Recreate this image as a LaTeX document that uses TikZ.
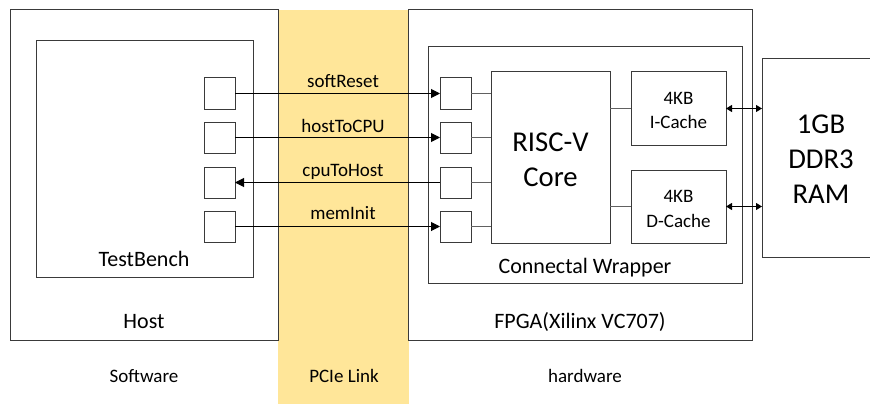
\documentclass[tikz,border=0pt]{standalone}
\usepackage{fontspec}
\setmainfont{Carlito}
\usetikzlibrary{arrows.meta}
\definecolor{bandcol}{HTML}{FFE699}
\definecolor{linecol}{HTML}{3A3A3A}
\begin{document}
\begin{tikzpicture}[x=1pt,y=-1pt,
  box/.style={draw=linecol, line width=1pt, inner sep=0pt, outer sep=0pt, anchor=north west},
  port/.style={box, minimum width=31pt, minimum height=31pt},
  sig/.style={-{Triangle[length=9pt,width=9pt]}, line width=1pt, draw=black},
  dbl/.style={{Triangle[length=6pt,width=7pt]}-{Triangle[length=6pt,width=7pt]}, line width=1pt, draw=black},
  wire/.style={line width=1pt, draw=linecol!80},
  small/.style={font=\fontsize{19}{23}\selectfont, inner sep=0pt, anchor=base},
  mid/.style={font=\fontsize{22}{26}\selectfont, inner sep=0pt, anchor=base},
  big/.style={font=\fontsize{28.7}{34}\selectfont, inner sep=0pt, anchor=base}]
\useasboundingbox (0,0) rectangle (870,404);
\clip (0,0) rectangle (870,404);
% PCIe band
\fill[bandcol] (278,10) rectangle (409,404);
% big boxes
\node[box, minimum width=268pt, minimum height=330pt] (host) at (10,10) {};
\node[box, minimum width=217pt, minimum height=236pt] (tb) at (36,41) {};
\node[box, minimum width=344pt, minimum height=330pt] (fpga) at (408,10) {};
\node[box, minimum width=314pt, minimum height=236pt] (wrap) at (428,47) {};
\node[box, minimum width=119pt, minimum height=171pt] (core) at (491,72) {};
\node[box, minimum width=95pt, minimum height=73pt] (icache) at (631,72) {};
\node[box, minimum width=95pt, minimum height=73pt] (dcache) at (631,170) {};
\node[box, minimum width=112pt, minimum height=198pt] (ram) at (762,59) {};
% ports
\node[port] (l1) at (204,78) {};
\node[port] (l2) at (204,122) {};
\node[port] (l3) at (204,167) {};
\node[port] (l4) at (204,211) {};
\node[port] (r1) at (440,78) {};
\node[port] (r2) at (440,122) {};
\node[port] (r3) at (440,167) {};
\node[port] (r4) at (440,211) {};
% signals
\draw[sig] (l1.east) -- (r1.west);
\draw[sig] (l2.east) -- (r2.west);
\draw[sig] (r3.west) -- (l3.east);
\draw[sig] (l4.east) -- (r4.west);
\node[small] (s1) at (343,88) {softReset};
\node[small] (s2) at (343,132) {hostToCPU};
\node[small] (s3) at (343,176) {cpuToHost};
\node[small] (s4) at (343,219) {memInit};
% wires to core
\draw[wire] (r1.east) -- (r1.east -| core.west);
\draw[wire] (r2.east) -- (r2.east -| core.west);
\draw[wire] (r3.east) -- (r3.east -| core.west);
\draw[wire] (r4.east) -- (r4.east -| core.west);
\draw[wire] (icache.west -| core.east) -- (icache.west);
\draw[wire] (dcache.west -| core.east) -- (dcache.west);
% memory links
\draw[dbl] (icache.east) -- (icache.east -| ram.west);
\draw[dbl] (dcache.east) -- (dcache.east -| ram.west);
% labels
\node[mid] (tbl) at (144,266) {TestBench};
\node[mid] (hostl) at (144,328) {Host};
\node[small] (swl) at (144,382) {Software};
\node[small] (pcil) at (344,382) {PCIe Link};
\node[small] (hwl) at (585,382) {hardware};
\node[mid] (wrapl) at (585,273) {Connectal Wrapper};
\node[mid] (fpgal) at (580,328) {FPGA(Xilinx VC707)};
\node[big] (corel1) at (550.5,151) {RISC-V};
\node[big] (corel2) at (550.5,186) {Core};
\node[small] (ic1) at (678.5,104) {4KB};
\node[small] (ic2) at (678.5,128) {I-Cache};
\node[small] (dc1) at (678.5,202) {4KB};
\node[small] (dc2) at (678.5,227) {D-Cache};
\node[big] (raml1) at (821,133) {1GB};
\node[big] (raml2) at (821,168) {DDR3};
\node[big] (raml3) at (821,203) {RAM};
\end{tikzpicture}
\end{document}
